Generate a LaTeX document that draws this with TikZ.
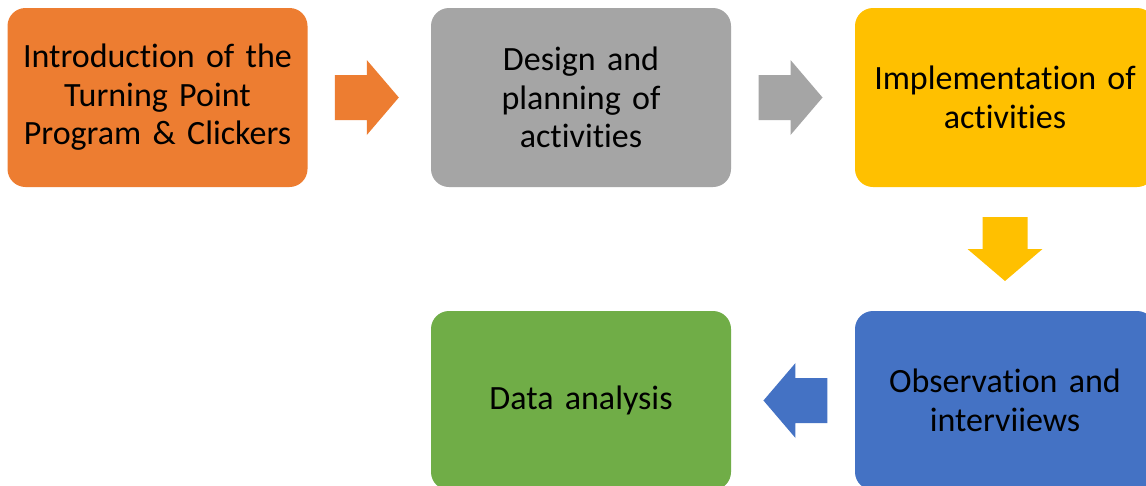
\documentclass[tikz,border=0pt]{standalone}
\usepackage{fontspec}
\setmainfont[Ligatures=NoCommon,WordSpace={0.8,0,0}]{Carlito}
\usetikzlibrary{calc}
\definecolor{corange}{HTML}{ED7D31}
\definecolor{cgray}{HTML}{A5A5A5}
\definecolor{cyellow}{HTML}{FFC000}
\definecolor{cblue}{HTML}{4472C4}
\definecolor{cgreen}{HTML}{70AD47}
\tikzset{
  stepbox/.style={rounded corners=18pt, minimum width=300pt, minimum height=179pt,
    inner sep=0pt, align=center, text width=295pt, text=black,
    font=\fontsize{34}{38.5}\selectfont},
  blockarrow/.pic={\fill[pic actions] (-32,-22.5) -- (0,-22.5) -- (0,-37.5) -- (32,0)
    -- (0,37.5) -- (0,22.5) -- (-32,22.5) -- cycle;}
}
\begin{document}
\begin{tikzpicture}[x=1pt,y=-1pt]
\clip (0,0) rectangle (1146,485);
\fill[white] (0,0) rectangle (1146,485);
\node[stepbox, fill=corange] (b1) at (157.5,97.5) {Introduction of the\\Turning Point\\Program \& Clickers};
\node[stepbox, fill=cgray] (b2) at (581,97.5) {Design and\\planning of\\activities};
\node[stepbox, fill=cyellow] (b3) at (1005,97.5) {Implementation of\\activities};
\node[stepbox, fill=cblue] (b4) at (1005,400.5) {Observation and\\interviiews};
\node[stepbox, fill=cgreen] (b5) at (581,400.5) {Data analysis};
\coordinate (a1) at ($(b1.east)!0.48!(b2.west)$);
\coordinate (a2) at ($(b2.east)!0.48!(b3.west)$);
\coordinate (a3) at ($(b3.south)!0.5!(b4.north)$);
\coordinate (a4) at ($(b4.west)!0.48!(b5.east)$);
\pic[fill=corange] at (a1) {blockarrow};
\pic[fill=cgray] at (a2) {blockarrow};
\pic[fill=cyellow, rotate=-90] at (a3) {blockarrow};
\pic[fill=cblue, rotate=180] at (a4) {blockarrow};
\end{tikzpicture}
\end{document}
